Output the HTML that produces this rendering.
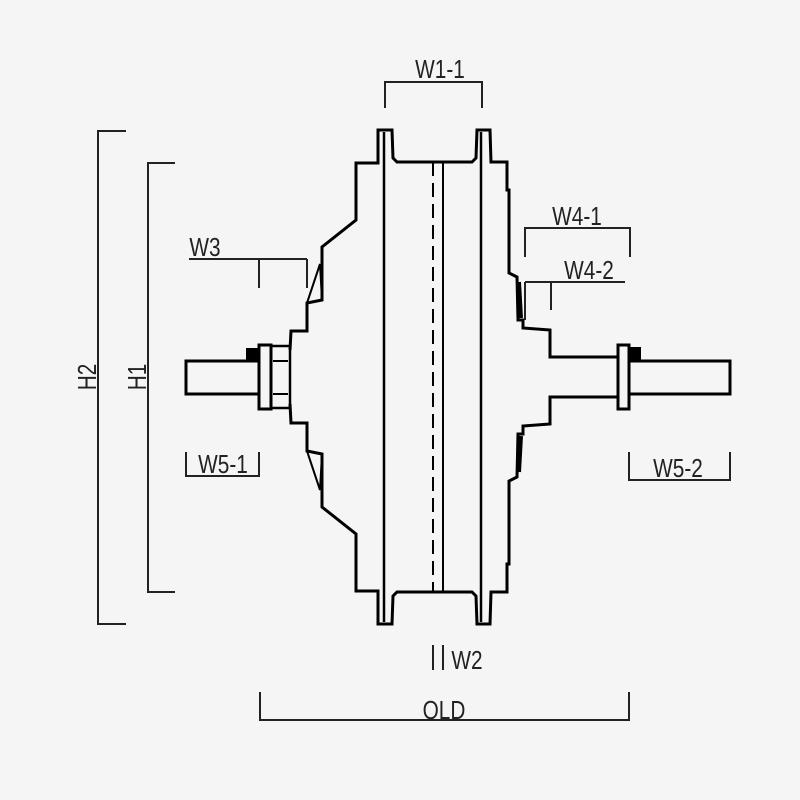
<!DOCTYPE html>
<html><head><style>
html,body{margin:0;padding:0;background:#f5f5f5;}
svg{display:block;}
text{font-family:"Liberation Sans",sans-serif;font-size:26px;fill:#222;}
</style></head><body>
<svg width="800" height="800" viewBox="0 0 800 800" xmlns="http://www.w3.org/2000/svg">
<rect width="800" height="800" fill="#f5f5f5"/>
<g fill="none" stroke="#000" stroke-width="3" stroke-linejoin="miter">
<polyline points="290,350 291,331 307,331 307,303 322,300 322,247 356,220 356,163 378,163 378,130 392,130 393,158 397,162 472,162 476,158 477,130 490,130 491,162 507,162 507,190 509,190 509,273 517,277 518,320 523,320 523,328 550,330 550,357 618,357"/>
<polyline points="290,404 291,423 307,423 307,451 322,454 322,507 356,534 356,591 378,591 378,624 392,624 393,596 397,592 472,592 476,596 477,624 490,624 491,592 507,592 507,564 509,564 509,481 517,477 518,434 523,434 523,426 550,424 550,397 618,397"/>
<polygon points="307,303 320,264 322,300" stroke-width="2"/>
<polygon points="307,451 320,490 322,454" stroke-width="2"/>
<line x1="519" y1="282" x2="521" y2="318" stroke-width="4"/>
<line x1="519" y1="472" x2="521" y2="436" stroke-width="4"/>
<line x1="384" y1="132" x2="384" y2="622" stroke-width="2.5"/>
<line x1="481" y1="132" x2="481" y2="622" stroke-width="2.5"/>
<line x1="443" y1="162" x2="443" y2="592" stroke-width="2"/>
<line x1="433" y1="162" x2="433" y2="592" stroke-width="2" stroke-dasharray="14,7"/>
<rect x="186" y="361" width="73" height="33"/>
<rect x="259" y="345" width="12" height="64"/>
<polyline points="271,346 290,346 290,408 271,408" stroke-width="2.5"/>
<line x1="273" y1="361" x2="288" y2="361" stroke-width="2"/>
<line x1="273" y1="394" x2="288" y2="394" stroke-width="2"/>
<rect x="629" y="361" width="101" height="33"/>
<rect x="618" y="345" width="11" height="64"/>
</g>
<rect x="246" y="348" width="13" height="13" fill="#000"/>
<rect x="629" y="347" width="12" height="14" fill="#000"/>
<g fill="none" stroke="#222" stroke-width="2">
<polyline points="385,108 385,82 482,82 482,108"/>
<polyline points="126,131 98,131 98,624 126,624"/>
<polyline points="175,163 148,163 148,592 175,592"/>
<line x1="189" y1="259" x2="307" y2="259"/><line x1="259" y1="259" x2="259" y2="288"/><line x1="307" y1="259" x2="307" y2="288"/>
<polyline points="525,257 525,228 630,228 630,257"/>
<line x1="525" y1="282" x2="625" y2="282"/><line x1="525" y1="282" x2="525" y2="320"/><line x1="551" y1="282" x2="551" y2="310"/>
<polyline points="186,452 186,476 259,476 259,452"/>
<polyline points="629,452 629,480 730,480 730,452"/>
<line x1="433" y1="645" x2="433" y2="670"/><line x1="443" y1="645" x2="443" y2="670"/>
<polyline points="260,692 260,720 629,720 629,692"/>
</g>
<g text-anchor="middle">
<text x="440" y="78" transform="translate(440 0) scale(0.8 1) translate(-440 0)">W1-1</text>
<text x="205" y="256" transform="translate(205 0) scale(0.8 1) translate(-205 0)">W3</text>
<text x="577" y="225" transform="translate(577 0) scale(0.8 1) translate(-577 0)">W4-1</text>
<text x="589" y="279" transform="translate(589 0) scale(0.8 1) translate(-589 0)">W4-2</text>
<text x="223" y="473" transform="translate(223 0) scale(0.8 1) translate(-223 0)">W5-1</text>
<text x="678" y="477" transform="translate(678 0) scale(0.8 1) translate(-678 0)">W5-2</text>
<text x="467" y="669" transform="translate(467 0) scale(0.8 1) translate(-467 0)">W2</text>
<text x="444" y="719" transform="translate(444 0) scale(0.8 1) translate(-444 0)">OLD</text>
<text x="0" y="0" transform="translate(96 377) rotate(-90) scale(0.8 1)">H2</text>
<text x="0" y="0" transform="translate(146 377) rotate(-90) scale(0.8 1)">H1</text>
</g>
</svg>
</body></html>
